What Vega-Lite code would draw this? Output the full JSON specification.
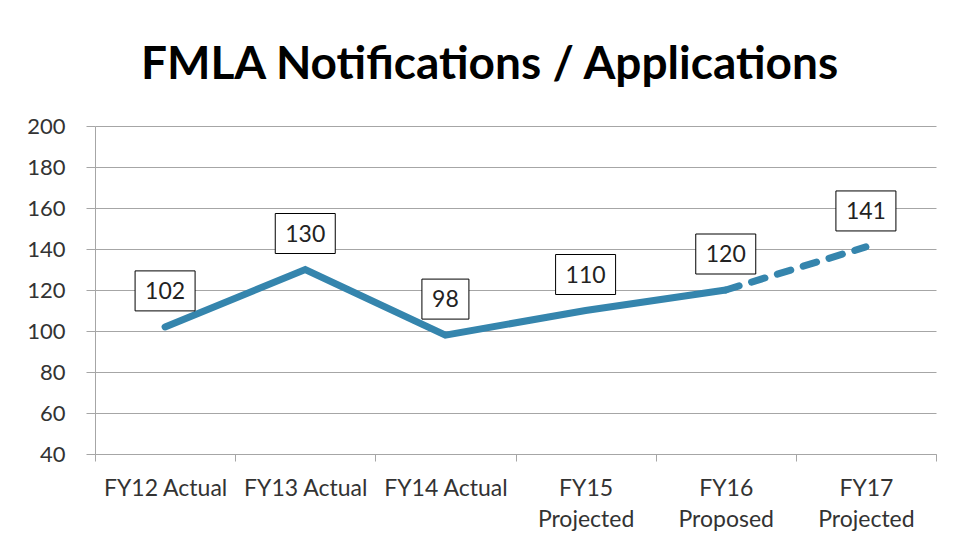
{
  "$schema": "https://vega.github.io/schema/vega-lite/v6.json",
  "width": 841,
  "height": 328,
  "autosize": {"type": "none"},
  "padding": {"left": 95, "top": 126, "right": 28, "bottom": 102},
  "background": "white",
  "title": {
    "text": "FMLA Notifications / Applications",
    "font": "Lato",
    "fontSize": 46,
    "fontWeight": "bold",
    "color": "#000000",
    "anchor": "middle",
    "frame": "group",
    "baseline": "alphabetic",
    "offset": -10,
    "dx": -26
  },
  "config": {
    "view": {"stroke": null},
    "font": "Lato"
  },
  "datasets": {
    "pts": [
      {"period": "FY12 Actual", "value": 102},
      {"period": "FY13 Actual", "value": 130},
      {"period": "FY14 Actual", "value": 98},
      {"period": "FY15\nProjected", "value": 110},
      {"period": "FY16\nProposed", "value": 120},
      {"period": "FY17\nProjected", "value": 141}
    ],
    "segs": [
      {"period": "FY12 Actual", "value": 102, "seg": "solid"},
      {"period": "FY13 Actual", "value": 130, "seg": "solid"},
      {"period": "FY14 Actual", "value": 98, "seg": "solid"},
      {"period": "FY15\nProjected", "value": 110, "seg": "solid"},
      {"period": "FY16\nProposed", "value": 120, "seg": "solid"},
      {"period": "FY16\nProposed", "value": 120, "seg": "dashed"},
      {"period": "FY17\nProjected", "value": 141, "seg": "dashed"}
    ]
  },
  "encoding": {
    "x": {
      "field": "period",
      "type": "nominal",
      "sort": null,
      "scale": {"paddingInner": 0, "paddingOuter": 0},
      "axis": {
        "title": null,
        "labelAngle": 0,
        "labelExpr": "split(datum.label, '\\n')",
        "labelFont": "Lato",
        "labelFontSize": 23,
        "labelColor": "#333333",
        "labelLineHeight": 31,
        "labelBaseline": "top",
        "labelPadding": 16,
        "tickBand": "extent",
        "tickSize": 7,
        "tickColor": "#a6a6a6",
        "domainColor": "#a6a6a6",
        "grid": false
      }
    },
    "y": {
      "field": "value",
      "type": "quantitative",
      "scale": {"domain": [40, 200], "nice": false, "zero": false},
      "axis": {
        "title": null,
        "values": [40, 60, 80, 100, 120, 140, 160, 180, 200],
        "labelFont": "Lato",
        "labelFontSize": 22,
        "labelColor": "#333333",
        "labelPadding": 21,
        "tickSize": 9,
        "tickColor": "#a6a6a6",
        "domainColor": "#a6a6a6",
        "gridColor": "#a6a6a6",
        "grid": true
      }
    }
  },
  "layer": [
    {
      "data": {"name": "segs"},
      "transform": [{"filter": "datum.seg === 'solid'"}],
      "mark": {"type": "line", "color": "#3585ad", "strokeWidth": 7, "strokeCap": "round", "strokeJoin": "miter"},
      "encoding": {}
    },
    {
      "data": {"name": "segs"},
      "transform": [{"filter": "datum.seg === 'dashed'"}],
      "mark": {"type": "line", "color": "#3585ad", "strokeWidth": 7, "strokeCap": "round", "strokeDash": [14, 13]},
      "encoding": {}
    },
    {
      "data": {"name": "pts"},
      "mark": {"type": "point", "filled": true, "fill": "white", "stroke": "black", "strokeWidth": 1, "opacity": 1, "size": 1600, "yOffset": -36},
      "encoding": {
        "shape": {
          "condition": {"test": "datum.value < 100", "value": "M-1.175,-1L1.175,-1L1.175,1L-1.175,1Z"},
          "value": "M-1.5,-1L1.5,-1L1.5,1L-1.5,1Z"
        }
      }
    },
    {
      "data": {"name": "pts"},
      "mark": {"type": "text", "font": "Lato", "fontSize": 23, "color": "#222222", "baseline": "middle", "align": "center", "yOffset": -35},
      "encoding": {"text": {"field": "value", "type": "quantitative"}}
    }
  ]
}
